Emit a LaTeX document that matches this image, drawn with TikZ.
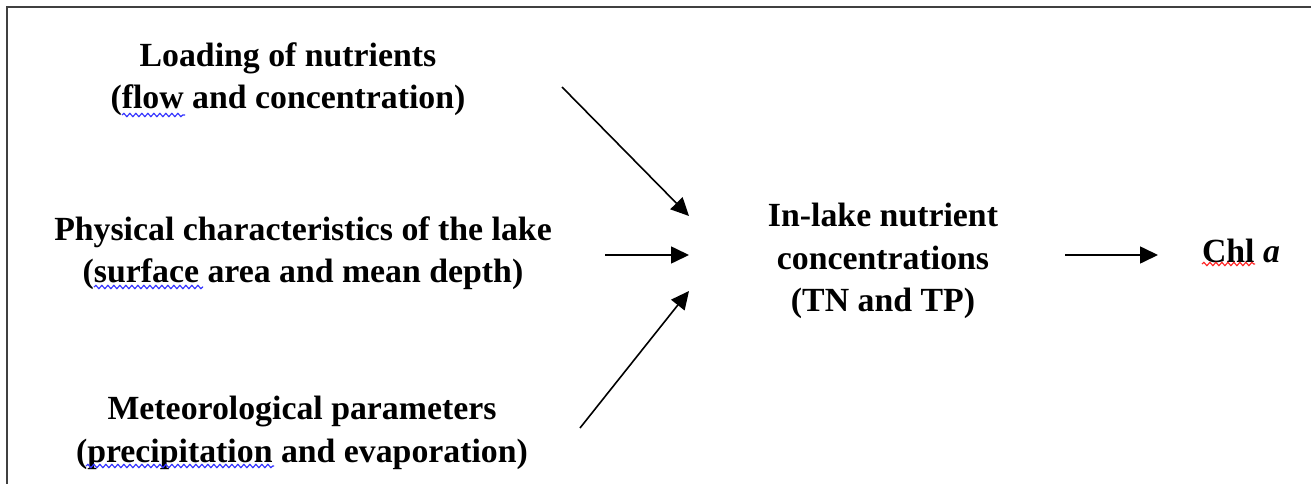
\documentclass[tikz,border=0pt]{standalone}
\usepackage{fontspec}
\setmainfont{Liberation Serif}
\usetikzlibrary{arrows.meta,decorations.pathmorphing}
\begin{document}
\begin{tikzpicture}[x=1pt,y=-1pt,
  lbl/.style={align=center,font=\fontsize{33.8}{42.5}\selectfont\bfseries,inner sep=0pt},
  conn/.style={line width=1.6pt,-{Triangle[length=18pt,width=17pt]}},
  squig/.style={line width=1.2pt,decorate,decoration={snake,segment length=6pt,amplitude=1.6pt}}]
\useasboundingbox (0,0) rectangle (1311,484);
\draw[line width=2pt,draw=black!75] (6.5,484) -- (6.5,7.5) -- (1311,7.5);
\node[lbl] (load) at (288,79) {Loading of nutrients\\(flow and concentration)};
\node[lbl] (phys) at (303,253) {Physical characteristics of the lake\\(surface area and mean depth)};
\node[lbl] (met) at (302,433) {Meteorological parameters\\(precipitation and evaporation)};
\node[lbl] (lake) at (883,261) {In-lake nutrient\\concentrations\\(TN and TP)};
\node[lbl] (chl) at (1241,251) {Chl \textit{a}};
\coordinate (a1s) at (562,87);
\coordinate (a1e) at (689,216);
\coordinate (a2s) at (605,255);
\coordinate (a2e) at (689,255);
\coordinate (a3s) at (580,428);
\coordinate (a3e) at (689,291);
\coordinate (a4s) at (1065,255);
\coordinate (a4e) at (1158,255);
\draw[conn] (a1s) -- (a1e);
\draw[conn] (a2s) -- (a2e);
\draw[conn] (a3s) -- (a3e);
\draw[conn] (a4s) -- (a4e);
\draw[squig,blue!80] (122,115) -- (185,115);
\draw[squig,blue!80] (94,287) -- (203,287);
\draw[squig,blue!80] (86,466) -- (274,466);
\draw[squig,red!85] (1202,264) -- (1255,264);
\end{tikzpicture}
\end{document}
